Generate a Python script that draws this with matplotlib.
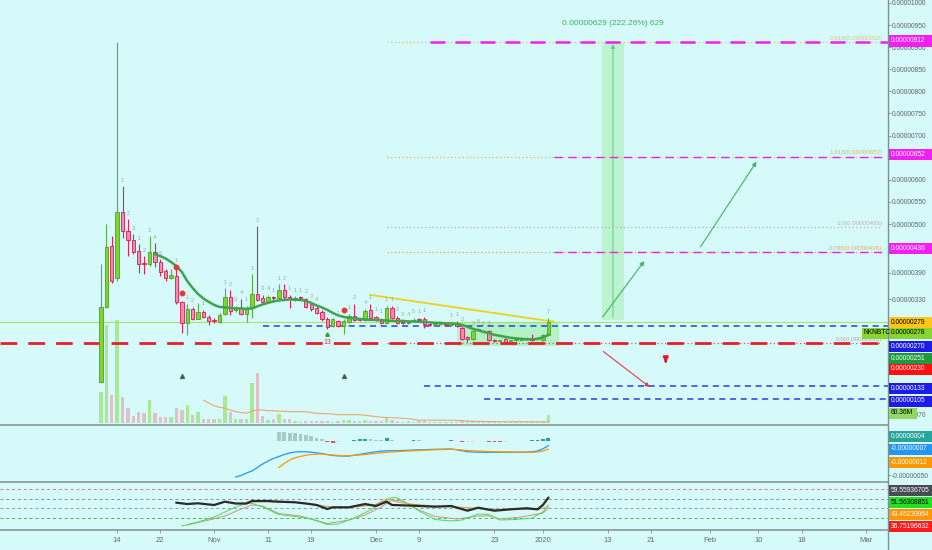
import numpy as np
import pandas as pd
import matplotlib
matplotlib.use("Agg")
import matplotlib.pyplot as plt
import matplotlib.dates as mdates
from matplotlib.patches import Rectangle
from matplotlib.lines import Line2D

plt.rcParams['font.family'] = ['Liberation Sans Narrow', 'Liberation Sans', 'DejaVu Sans']

# NKN/BTC daily candles, prices in satoshi (1e-8 BTC)
start = '2019-10-11'
opens = [141.8, 313.1, 450.0, 377.8, 527.3, 483.8, 463.5, 438.7, 411.6, 409.4,
         436.4, 413.9, 393.6, 377.8, 382.3, 323.7, 276.4, 307.9, 286.0, 301.2,
         290.5, 283.1, 278.6, 296.6, 335.0, 305.7, 310.2, 297.3, 309.5, 342.4,
         333.4, 323.7, 333.8, 332.0, 350.1, 335.0, 328.2, 333.8, 329.8, 318.5,
         310.8, 301.8, 286.0, 269.6, 280.9, 269.6, 279.3, 292.1, 285.4, 283.1,
         305.0, 289.9, 284.7, 277.0, 310.8, 288.3, 278.6, 276.4, 280.9, 285.4,
         284.7, 274.1, 270.7, 273.0, 274.1, 271.9, 277.0, 265.8, 244.8, 239.6,
         260.6, 258.8, 258.3, 238.0, 234.6, 239.6, 234.6, 236.9, 238.5, 240.3,
         243.2, 240.7, 237.4, 249.3]
highs = [409.4, 499.5, 472.5, 912.0, 585.2, 510.8, 477.0, 454.5, 427.4, 472.5,
         456.7, 420.7, 398.1, 398.1, 404.9, 326.0, 319.2, 312.4, 321.5, 305.7,
         294.4, 287.6, 298.9, 355.3, 350.7, 314.7, 330.5, 314.7, 386.8, 495.0,
         339.5, 339.5, 337.2, 364.3, 364.3, 339.5, 337.2, 337.2, 332.7, 321.5,
         314.7, 305.7, 289.9, 287.6, 283.1, 285.4, 296.6, 319.2, 287.6, 307.9,
         319.2, 292.1, 287.6, 314.7, 314.7, 292.1, 280.9, 280.9, 287.6, 287.6,
         289.9, 276.4, 276.4, 278.6, 276.4, 278.6, 280.9, 269.6, 247.1, 260.6,
         265.1, 260.6, 260.6, 240.3, 238.0, 242.6, 238.0, 242.6, 242.6, 244.8,
         252.2, 244.8, 251.6, 288.3]
lows = [141.1, 310.2, 366.5, 371.0, 468.0, 427.4, 431.9, 389.1, 386.8, 404.9,
        402.6, 382.3, 371.0, 375.6, 319.2, 253.8, 249.3, 283.1, 285.4, 287.6,
        271.9, 276.4, 276.4, 294.4, 294.4, 301.2, 294.4, 279.3, 288.3, 326.0,
        319.2, 321.5, 328.2, 328.2, 330.5, 310.2, 326.0, 328.2, 310.2, 303.4,
        296.6, 280.9, 262.8, 267.4, 267.4, 251.6, 276.4, 280.9, 280.9, 280.9,
        285.4, 280.9, 274.1, 274.1, 285.4, 274.1, 274.1, 274.1, 278.6, 280.9,
        264.4, 269.6, 269.6, 271.9, 269.6, 269.6, 267.4, 238.0, 234.2, 238.0,
        258.3, 256.0, 235.8, 233.6, 233.6, 231.3, 233.6, 235.8, 238.0, 238.0,
        235.8, 239.6, 235.8, 247.1]
closes = [313.1, 447.7, 371.0, 527.3, 483.8, 463.5, 436.4, 409.4, 409.4, 436.4,
          413.9, 391.3, 377.8, 384.6, 324.4, 276.4, 307.9, 286.0, 301.2, 290.5,
          280.9, 279.7, 294.4, 335.0, 303.4, 309.1, 297.3, 309.5, 341.1, 328.2,
          323.7, 335.0, 331.6, 350.1, 335.0, 330.5, 333.4, 331.6, 313.1, 307.3,
          299.6, 284.7, 267.4, 284.7, 269.6, 280.9, 292.1, 283.1, 283.6, 303.4,
          288.3, 282.4, 277.0, 310.8, 288.3, 277.0, 276.4, 278.6, 283.1, 283.1,
          274.8, 272.3, 273.0, 275.2, 271.9, 277.0, 269.6, 239.6, 239.6, 258.3,
          262.2, 257.2, 237.4, 236.2, 236.9, 232.0, 236.9, 239.6, 240.3, 241.9,
          237.4, 242.6, 249.3, 278.0]
volumes = [230, 715, 206, 756, 193, 109, 55, 84, 73, 174,
           77, 48, 48, 44, 116, 97, 133, 60, 84, 29,
           36, 29, 29, 198, 84, 29, 36, 29, 295, 368,
           53, 24, 29, 68, 36, 29, 19, 12, 15, 15,
           15, 19, 19, 12, 18, 22, 25, 20, 15, 22,
           18, 15, 20, 48, 22, 15, 12, 15, 12, 15,
           20, 12, 10, 12, 10, 14, 12, 22, 15, 20,
           12, 10, 18, 12, 10, 14, 10, 12, 10, 12,
           15, 10, 18, 60.36]  # millions

ema_start = 10
ema = [431.9, 427.4, 421.8, 413.9, 404.9, 391.3, 371.0, 355.3, 341.7, 331.6,
       323.7, 317.0, 312.4, 311.3, 310.2, 309.1, 309.1, 307.9, 309.1, 313.6,
       318.1, 321.5, 324.9, 327.1, 328.2, 329.4, 329.4, 328.2, 326.0, 321.5,
       315.8, 311.3, 305.7, 298.9, 293.3, 289.9, 287.6, 286.5, 285.4, 284.2,
       283.1, 283.1, 282.0, 282.0, 280.9, 280.9, 280.9, 279.7, 279.7, 278.6,
       278.6, 277.5, 276.4, 276.4, 275.2, 275.2, 274.1, 271.9, 267.4, 262.8,
       259.5, 256.0, 252.7, 249.3, 247.1, 244.8, 242.6, 241.4, 240.3, 239.2,
       239.2, 240.3, 243.5, 249.0]

volma_start = 19
vol_ma = [169, 148, 129, 118, 111, 97, 86, 79, 75, 89,
          100, 97, 93, 93, 89, 89, 86, 86, 86, 86,
          79, 75, 71, 71, 68, 64, 64, 64, 64, 64,
          60, 55, 50, 46, 44, 42, 40, 38, 35, 30,
          24, 24, 24, 24, 24, 24, 24, 22, 20, 18,
          16, 15, 15, 14, 14, 13, 13, 13, 13, 13,
          12, 12, 12, 12, 12]

# MACD pane (1e-8 units)
macd_start = 25
macd = [-52.9, -50.7, -47.1, -44.1, -39.0, -33.8, -29.4, -25.7, -22.8, -19.9,
        -17.6, -16.2, -15.7, -15.9, -16.5, -17.4, -18.5, -20.0, -21.3, -21.9,
        -22.1, -22.1, -21.0, -19.6, -18.4, -16.9, -15.9, -15.0, -14.3, -14.3,
        -14.3, -14.0, -13.7, -13.2, -13.1, -12.8, -12.4, -12.2, -12.1, -11.9,
        -11.8, -12.9, -14.4, -15.7, -16.2, -16.5, -16.6, -16.6, -16.6, -16.6,
        -16.6, -16.6, -16.6, -16.5, -16.3, -15.9, -14.7, -11.5, -7.0]
signal_start = 33
signal = [-39.0, -33.1, -27.9, -24.7, -22.8, -20.9, -19.9, -19.4, -19.1, -19.9,
          -20.6, -21.2, -21.5, -21.5, -21.0, -20.6, -19.9, -19.1, -18.2, -17.4,
          -16.6, -16.2, -15.6, -15.1, -14.7, -14.3, -14.0, -13.5, -13.2, -12.9,
          -12.6, -12.4, -12.2, -12.6, -13.2, -14.0, -14.4, -14.7, -15.1, -15.4,
          -15.7, -15.9, -16.0, -16.1, -16.2, -16.3, -16.4, -16.6, -16.2, -14.8,
          -12.0]
hist = [13.7, 13.2, 12.5, 11.5, 10.3, 8.8, 7.0, 5.0, 3.0, -1.5,
        -2.5, -2.0, -0.5, 0.3, 1.0, 2.5, 3.0, 3.0, 1.5, 1.0,
        4.0, 2.0, 0.5, 0.3, 0.5, 1.2, 1.2, 0.3, 0.2, 0.3,
        0.4, 0.5, 1.0, -0.3, -1.5, -1.2, -0.8, -0.5, -0.3, -1.5,
        -1.5, -1.5, -0.8, -0.3, 0.2, 0.4, 0.6, 1.2, 1.8, 2.8,
        4.0]

# RSI / stochastic pane
rsi_idx = [14, 16, 18, 20, 21, 23, 25, 27, 28, 31, 33, 36, 38, 40, 42, 43, 46, 49, 51, 53,
           54, 58, 62, 65, 68, 70, 73, 76, 79, 81, 82, 83]
rsi = [51.3, 49.5, 50.5, 48.9, 48.2, 52.7, 50.2, 50.2, 53.6, 53.6, 52.7, 51.9, 50.2, 48.2, 42.7,
       45.0, 45.0, 49.5, 46.8, 52.7, 48.2, 47.2, 45.9, 46.8, 40.4, 44.5, 40.4, 42.3, 43.7, 42.3,
       48.2, 58.0]
rsi_ma_idx = [27, 30, 33, 36, 39, 42, 45, 48, 51, 53, 55, 58, 62, 66, 70, 74, 78, 81, 83]
rsi_ma = [52.3, 52.9, 52.3, 51.6, 49.5, 46.1, 44.8, 46.1, 48.9, 56.4, 52.3, 48.9, 46.8, 45.4,
          43.4, 42.0, 42.7, 42.0, 45.4]
stoch_k_idx = [15, 18, 21, 23, 25, 27, 28, 30, 33, 36, 39, 42, 44, 47, 50, 52, 54, 55, 57, 59,
               62, 65, 67, 70, 72, 74, 77, 80, 82, 83]
stoch_k = [19.5, 25.0, 31.8, 38.6, 45.4, 50.2, 50.5, 45.4, 35.2, 32.5, 29.1, 21.6, 22.3, 30.4,
           41.4, 50.9, 58.7, 57.7, 49.5, 40.0, 28.4, 26.4, 27.7, 35.9, 35.2, 27.7, 28.4, 30.4,
           38.6, 48.0]
stoch_d_idx = [16, 20, 23, 26, 28, 30, 33, 37, 42, 46, 49, 52, 54, 56, 59, 62, 66, 70, 72, 74,
               78, 82, 83]
stoch_d = [20.9, 27.7, 33.2, 42.7, 48.2, 46.8, 36.6, 33.2, 22.9, 27.7, 34.5, 45.4, 55.0, 53.6,
           41.4, 32.5, 29.1, 33.2, 33.2, 29.1, 31.8, 37.3, 43.7]
rsi_levels = [70, 56.4, 43.7, 30]

# drawings on the price pane
support_red = 230
blue_levels = [270, 133, 105]
blue_starts = ['2019-11-10', '2019-12-10', '2019-12-21']
target_levels = [912, 652, 436]
target_starts = ['2019-12-11', '2020-01-03', '2020-01-03']
fib_ratio = ['0.0', '0.786', '1.0', '1.618', '2.618']
fib_price = [230, 436, 493, 652, 912]
fib_span = ['2019-12-03', '2020-03-04']
trend_dates = ['2019-11-30', '2020-01-03']
trend_prices = [339.5, 279]
zone_dates = ['2019-12-16', '2020-01-04']
zone_prices = [225, 278]
range_dates = ['2020-01-12', '2020-01-16']
range_prices = [283, 912]
up_arrows = [(['2020-01-11 19:00', '2020-01-20 03:00'], [285, 421]),
             (['2020-01-29 23:00', '2020-02-09 22:00'], [443, 646])]
down_arrow = (['2020-01-11 19:00', '2020-01-21 05:00'], [215.5, 127.6])
down_mark = ('2020-01-23 19:00', 186)
dot_idx = [14, 15, 45]
dot_val = [402.6, 342.9, 305.7]
tri_idx = [15, 45]
tri_val = [156, 156]
td_idx = [4, 5, 6, 7, 8, 9, 10, 11, 14, 16, 17, 19, 23, 24, 25, 26, 27, 28, 29, 30, 31, 32, 33,
          34, 35, 36, 37, 38, 39, 40, 44, 46, 47, 49, 50, 51, 52, 53, 54, 55, 56, 57, 58, 59, 60,
          65, 66, 67, 69, 70, 71, 72, 83]
td_txt = ['1', '2', '3', '1', '2', '3', '4', '5', '1', '1', '2', '1', '1', '2', '3', '4', '1',
          '1', '2', '3', '4', '1', '1', '2', '1', '1', '1', '2', '3', '4', '1', '1', '2', '4',
          '1', '1', '1', '1', '1', '2', '3', '4', '5', '1', '1', '1', '1', '2', '3', '8', '1',
          '1', '7']

tick_dates = ['2019-10-14', '2019-10-22', '2019-11-01', '2019-11-11', '2019-11-19', '2019-12-01',
              '2019-12-09', '2019-12-23', '2020-01-01', '2020-01-13', '2020-01-21', '2020-02-01',
              '2020-02-10', '2020-02-18', '2020-03-01']
tick_labels = ['14', '22', 'Nov', '11', '19', 'Dec', '9', '23', '2020', '13', '21', 'Feb',
               '10', '18', 'Mar']
price_ticks = [1000, 950, 900, 850, 800, 750, 700, 600, 550, 500, 450, 390, 330, 70]

main_tags = ['0.00000912', '0.00000652', '0.00000436', '0.00000279', '0.00000278', '0.00000270',
             '0.00000251', '0.00000230', '0.00000133', '0.00000105', '60.36M']
main_tag_fc = ['#f21ef2', '#f21ef2', '#f21ef2', '#ffc61a', '#86d62e', '#1c1ce6',
               '#1d9a3c', '#ff1010', '#1c1ce6', '#1c1ce6', '#93d867']
main_tag_tc = ['white', 'white', 'white', 'black', 'black', 'white',
               'white', 'white', 'white', 'white', 'black']
macd_tags = ['0.00000004', '-0.00000007', '-0.00000012']
macd_tag_fc = ['#26a69a', '#2196f3', '#ff9800']
rsi_tags = ['59.55936705', '51.56308851', '43.45230064', '36.75196632']
rsi_tag_fc = ['#474b52', '#22e022', '#ff9800', '#ff1a1a']
rsi_tag_tc = ['white', 'black', 'white', 'white']

# ---------------------------------------------------------------
BG = '#d6fafa'
W, H = 932, 550
AXIS_X = 888
FS = 4.8
fig = plt.figure(figsize=(W / 100, H / 100), dpi=100, facecolor=BG)


def pane(top, bottom):
    return fig.add_axes([0, 1 - bottom / H, AXIS_X / W, (bottom - top) / H])


def d(s):
    return mdates.date2num(pd.Timestamp(s))


ax = pane(0, 425)
axm = pane(425, 482)
axr = pane(482, 530)
ax_v = ax.twinx()
ax_v.set_zorder(1)
ax.set_zorder(2)
ax.patch.set_visible(False)
ax_v.patch.set_facecolor(BG)
for a in (axm, axr):
    a.set_facecolor(BG)

x = mdates.date2num(pd.date_range(start, periods=len(closes), freq='D'))
o, h, l, c = map(np.array, (opens, highs, lows, closes))
up = c >= o

# price scale calibration (px per day, px per satoshi)
ppd = 5.389
for a in (ax, axm, axr, ax_v):
    a.set_xlim(x[0] - 101 / ppd, x[0] + (AXIS_X - 101) / ppd)
ax.set_ylim(1000 - 423.5 / 0.4436, 1000 + 3.0 / 0.4436)
xr = ax.get_xlim()[1]

# volume
vcol = np.where(up, '#a9e996', '#dfc2c7').tolist()
ax_v.bar(x, volumes, width=0.62, color=vcol, zorder=1)
ax_v.plot(x[volma_start:], vol_ma, color='#f2a56a', lw=0.8)
ax_v.set_ylim(-11, 3079)
ax_v.set_yticks([])

# zones / tools
ax.add_patch(Rectangle((d(zone_dates[0]), zone_prices[0]), d(zone_dates[1]) - d(zone_dates[0]),
                       zone_prices[1] - zone_prices[0], facecolor='#a8efb6', alpha=0.75,
                       edgecolor='none', zorder=1))
rx0, rx1 = d(range_dates[0]), d(range_dates[1])
ax.add_patch(Rectangle((rx0, range_prices[0]), rx1 - rx0, range_prices[1] - range_prices[0],
                       facecolor='#b8f4cc', alpha=0.85, edgecolor='none', zorder=1))
xm = (rx0 + rx1) / 2
ax.annotate('', xy=(xm, range_prices[1]), xytext=(xm, range_prices[0]),
            arrowprops=dict(arrowstyle='-|>', color='#5cbf73', lw=0.6, mutation_scale=5), zorder=2)
diff = range_prices[1] - range_prices[0]
ax.annotate(f"{diff * 1e-8:.8f} ({diff / range_prices[0] * 100:.2f}%) {diff:.0f}",
            (xm, range_prices[1]), xytext=(0, 13.5), textcoords='offset points',
            ha='center', va='center', color='#3fae5e', fontsize=6)

# fib levels
fib_cols = ['#d25a5a', '#e6a23e', '#bdaeae', '#e3b452', '#dcc672']
fib_txt_cols = ['#b4a2a2', '#d9b060', '#bab2b2', '#d8b860', '#d8c47a']
for r, p, lc, tc in zip(fib_ratio, fib_price, fib_cols, fib_txt_cols):
    ax.plot([d(fib_span[0]), d(fib_span[1])], [p, p], color=lc, lw=0.9, ls=(0, (1, 2)), zorder=2)
    ax.annotate(f"{r}({p * 1e-8:.8f})", (d(fib_span[1]), p), xytext=(0, 1),
                textcoords='offset points', ha='right', va='bottom', fontsize=4.5, color=tc)

# horizontal levels
ax.axhline(c[-1], color='#a8e36c', lw=0.8, zorder=2)
ax.plot([ax.get_xlim()[0], xr], [support_red] * 2, color='#e61f2a', lw=2, dashes=(6, 4), zorder=3)
for lv, st in zip(blue_levels, blue_starts):
    ax.plot([d(st), xr], [lv, lv], color='#2b3ee0', lw=1.1, dashes=(4, 3), zorder=3)
for lv, st, lw in zip(target_levels, target_starts, [1.8, 1.0, 1.0]):
    ax.plot([d(st), xr], [lv, lv], color='#f01ef0', lw=lw, dashes=(6, 4), zorder=3)

# trend line
ax.plot([d(t) for t in trend_dates], trend_prices, color='#f2cf1d', lw=1.3, zorder=3)

# arrows
for ds, ps in up_arrows:
    ax.annotate('', xy=(d(ds[1]), ps[1]), xytext=(d(ds[0]), ps[0]),
                arrowprops=dict(arrowstyle='-|>', color='#3cb55a', lw=0.8, mutation_scale=6))
ax.annotate('', xy=(d(down_arrow[0][1]), down_arrow[1][1]),
            xytext=(d(down_arrow[0][0]), down_arrow[1][0]),
            arrowprops=dict(arrowstyle='-|>', color='#e8384a', lw=0.8, mutation_scale=6))
ax.annotate('', xy=(d(down_mark[0]), down_mark[1] - 6), xytext=(d(down_mark[0]), down_mark[1] + 10),
            arrowprops=dict(arrowstyle='-|>', color='#e8141e', lw=1.6, mutation_scale=7))

# candles
ax.vlines(x, l, h, colors=np.where(up, '#58ab46', '#e0245a').tolist(), lw=0.8, zorder=4)
ax.bar(x, np.maximum(np.abs(c - o), 1.3), bottom=np.minimum(o, c), width=0.62,
       color=np.where(up, '#7cd72c', '#f58cb0').tolist(),
       edgecolor=np.where(up, '#4f9e2a', '#d81b50').tolist(), lw=0.6, zorder=5)
ax.plot(x[ema_start:], ema, color='#3da44d', lw=1.8, zorder=6)

ax.plot(x[dot_idx], dot_val, 'o', color='#e53935', ms=3.2, zorder=7)
ax.plot(x[tri_idx], tri_val, '^', color='#4d5b5b', ms=2.8, zorder=7)
ax.plot(x[42], 252, '^', color='#2e9e3e', ms=2.5, zorder=7)
ax.text(x[42], 232, '13', color='#e53935', fontsize=5, ha='center', va='center', zorder=7)
for i, t in zip(td_idx, td_txt):
    ax.annotate(t, (x[i], h[i]), xytext=(0, 2.5), textcoords='offset points',
                ha='center', va='bottom', fontsize=4, color='#9aa6a6', zorder=7)

# MACD pane
hcol = []
for k, v in enumerate(hist):
    prev = hist[k - 1] if k else v
    if v >= 0:
        hcol.append('#26a69a' if v > prev else '#a9c9c4')
    else:
        hcol.append('#ffcdd2' if v > prev else '#ef5350')
axm.bar(x[signal_start:], hist, width=0.7, color=hcol)
axm.plot(x[macd_start:], macd, color='#2196f3', lw=0.9)
axm.plot(x[signal_start:], signal, color='#ff9800', lw=0.9)
axm.set_ylim(-(482 - 441) / 0.68, (441 - 425) / 0.68)

# RSI pane
rcols = ['#e57373', '#8c8c8c', '#8c9c94', '#4caf50']
for lv, col in zip(rsi_levels, rcols):
    axr.axhline(lv, color=col, lw=0.7, dashes=(3, 3))
axr.plot(x[stoch_d_idx], stoch_d, color='#c99090', lw=0.7)
axr.plot(x[stoch_k_idx], stoch_k, color='#4ddc4d', lw=0.7)
axr.plot(x[rsi_ma_idx], rsi_ma, color='#e5a35a', lw=0.9)
axr.plot(x[rsi_idx], rsi, color='#2a2a2a', lw=1.6)
axr.set_ylim(70 - 41 * 1.364, 70 + 7 * 1.364)

# axes styling
for a in (ax, axm, axr, ax_v):
    for s in a.spines.values():
        s.set_visible(False)
for a in (ax, axm):
    a.tick_params(axis='x', bottom=False, labelbottom=False)
axr.set_xticks([d(t) for t in tick_dates])
axr.set_xticklabels(tick_labels)
axr.tick_params(axis='x', length=2.2, width=0.6, pad=2.6, labelsize=5.5,
                color='#7f8f8f', labelcolor='#5f6b6b')

ax.yaxis.tick_right()
ax.set_yticks(price_ticks)
ax.set_yticklabels([f"{v * 1e-8:.8f}" for v in price_ticks])
axm.yaxis.tick_right()
axm.set_yticks([-50])
axm.set_yticklabels(['-0.00000050'])
for a in (ax, axm):
    a.tick_params(axis='y', length=2.2, width=0.6, pad=0.8, labelsize=FS,
                  color='#7f8f8f', labelcolor='#5a6666')
axr.set_yticks([])

# separators and axis lines
for py in (425, 482, 530):
    fig.add_artist(Line2D([0, AXIS_X / W], [1 - py / H] * 2, transform=fig.transFigure,
                          color='#7f9090', lw=1.1, zorder=4))
fig.add_artist(Line2D([AXIS_X / W] * 2, [0, 1], transform=fig.transFigure,
                      color='#7f9090', lw=1.0, zorder=4))


def tag(py, text, fc, tc, x0=AXIS_X + 1, w=43):
    fig.add_artist(Rectangle((x0 / W, 1 - (py + 5.5) / H), w / W, 11 / H,
                             transform=fig.transFigure, facecolor=fc, edgecolor='none', zorder=5))
    fig.text((x0 + 1.5) / W, 1 - py / H, text, color=tc, fontsize=FS,
             ha='left', va='center', zorder=6)


main_tag_y = [41, 154, 248, 322, 333, 346, 358, 369, 388, 401, 413]
for py, t, fc, tc in zip(main_tag_y, main_tags, main_tag_fc, main_tag_tc):
    tag(py, t, fc, tc, w=28 if t.endswith('M') else 43)
tag(333, 'NKNBTC', main_tag_fc[4], 'black', x0=862, w=26)
for py, t, fc in zip([436, 449, 462], macd_tags, macd_tag_fc):
    tag(py, t, fc, 'white')
for py, t, fc, tc in zip([490, 502, 514, 526], rsi_tags, rsi_tag_fc, rsi_tag_tc):
    tag(py, t, fc, tc)

fig.savefig('out.png', dpi=100, facecolor=BG)
